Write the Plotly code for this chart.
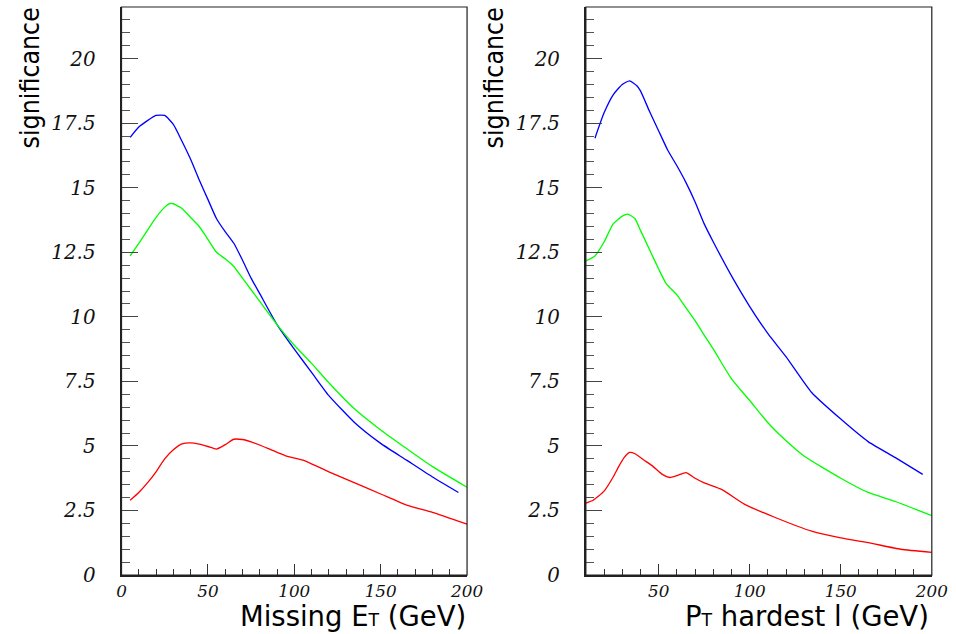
import plotly.graph_objects as go

# ---- data: left panel (Missing E_T) ----
met_blue_x = [5, 10, 15, 20, 25, 30, 35, 40, 45, 50, 55, 60, 65, 70, 75, 80, 90, 100, 110, 120, 135, 150, 165, 180, 195]
met_blue_y = [16.95, 17.35, 17.6, 17.8, 17.8, 17.45, 16.8, 16.1, 15.3, 14.55, 13.8, 13.3, 12.85, 12.2, 11.5, 10.9, 9.7, 8.75, 7.85, 6.95, 5.9, 5.1, 4.45, 3.8, 3.2]

met_green_x = [5, 10, 15, 20, 25, 28, 30, 35, 40, 45, 50, 55, 60, 65, 70, 75, 80, 90, 100, 110, 120, 135, 150, 165, 180, 200]
met_green_y = [12.36, 12.85, 13.35, 13.85, 14.25, 14.39, 14.38, 14.2, 13.85, 13.5, 13.0, 12.5, 12.25, 11.95, 11.5, 11.05, 10.6, 9.7, 8.9, 8.2, 7.45, 6.43, 5.62, 4.9, 4.2, 3.4]

met_red_x = [5, 10, 15, 20, 25, 30, 35, 40, 45, 50, 55, 60, 65, 70, 75, 85, 95, 105, 120, 135, 150, 165, 180, 200]
met_red_y = [2.9, 3.2, 3.57, 4.0, 4.5, 4.85, 5.08, 5.12, 5.07, 4.98, 4.88, 5.05, 5.26, 5.25, 5.16, 4.9, 4.62, 4.45, 4.0, 3.57, 3.14, 2.71, 2.43, 1.97]

# ---- data: right panel (P_T hardest lepton) ----
pt_blue_x = [15, 20, 25, 30, 34, 38, 40, 45, 50, 55, 60, 65, 70, 75, 80, 91, 100, 110, 120, 134, 150, 165, 180, 195]
pt_blue_y = [16.92, 17.9, 18.6, 19.0, 19.14, 18.95, 18.75, 17.95, 17.2, 16.45, 15.85, 15.2, 14.45, 13.6, 12.9, 11.46, 10.4, 9.35, 8.45, 7.07, 6.04, 5.17, 4.55, 3.9]

pt_green_x = [10, 15, 20, 25, 30, 33, 37, 40, 45, 50, 54, 60, 64, 70, 74, 80, 90, 100, 110, 120, 130, 150, 165, 180, 200]
pt_green_y = [12.17, 12.36, 12.9, 13.6, 13.9, 13.98, 13.8, 13.35, 12.6, 11.85, 11.3, 10.85, 10.45, 9.85, 9.4, 8.75, 7.6, 6.76, 5.9, 5.2, 4.6, 3.75, 3.2, 2.85, 2.3]

pt_red_x = [10, 14, 20, 25, 28, 31, 34, 37, 42, 47, 52, 56, 60, 65, 70, 75, 85, 97, 114, 134, 150, 165, 183, 200]
pt_red_y = [2.79, 2.9, 3.25, 3.8, 4.2, 4.55, 4.75, 4.7, 4.45, 4.2, 3.9, 3.78, 3.85, 3.97, 3.75, 3.57, 3.3, 2.75, 2.23, 1.7, 1.44, 1.26, 1.0, 0.88]

y_tickvals = [0, 2.5, 5, 7.5, 10, 12.5, 15, 17.5, 20]
y_ticktext = ["0", "2.5", "5", "7.5", "10", "12.5", "15", "17.5", "20"]
x1_tickvals = [0, 50, 100, 150, 200]
x2_tickvals = [50, 100, 150, 200]

BLUE, GREEN, RED = "#0000ff", "#00ff00", "#ff0000"
RW, RH = 956, 634          # reference picture size (positions below are in its pixels)
K = 1.0175                 # compensation for the viewer's rendering scale
W, H = round(RW * K), round(RH * K)

def s(v):
    return v * K

fig = go.Figure()

def add(x, y, color, xa, ya):
    fig.add_trace(go.Scatter(x=x, y=y, mode="lines", xaxis=xa, yaxis=ya,
                             line=dict(color=color, width=s(1.3), shape="spline", smoothing=0.5),
                             showlegend=False, hoverinfo="skip"))

add(met_blue_x, met_blue_y, BLUE, "x", "y")
add(met_green_x, met_green_y, GREEN, "x", "y")
add(met_red_x, met_red_y, RED, "x", "y")
add(pt_blue_x, pt_blue_y, BLUE, "x2", "y2")
add(pt_green_x, pt_green_y, GREEN, "x2", "y2")
add(pt_red_x, pt_red_y, RED, "x2", "y2")

ytickfont = dict(family="DejaVu Serif", size=s(19.5), color="#111111", style="italic")
xtickfont = dict(family="DejaVu Serif", size=s(16.5), color="#111111", style="italic")
ydom = [1 - 576 / RH, 1 - 7 / RH]

def xaxis(domain, rng, tickvals, anchor):
    return dict(domain=domain, range=rng, anchor=anchor, tickvals=tickvals,
                ticktext=[str(v) for v in tickvals], ticks="inside", ticklen=s(11),
                tickwidth=s(1.3), tickcolor="#333333", showline=True, linewidth=s(2),
                linecolor="#222222", mirror=False, showgrid=False, zeroline=False,
                tickfont=xtickfont, ticklabelstandoff=0,
                minor=dict(ticks="inside", ticklen=s(6), dtick=10, tick0=0,
                           tickcolor="#333333", tickwidth=s(1.3), showgrid=False))

def yaxis(anchor):
    return dict(domain=ydom, range=[0, 22], anchor=anchor, tickvals=y_tickvals,
                ticktext=y_ticktext, ticks="inside", ticklen=s(16), tickwidth=s(1.3),
                tickcolor="#444444", showline=True, linewidth=s(2), linecolor="#222222",
                mirror=False, showgrid=False, zeroline=False, tickfont=ytickfont,
                ticklabelstandoff=round(s(20)),
                minor=dict(ticks="inside", ticklen=s(8), dtick=0.5, tick0=0,
                           tickcolor="#555555", tickwidth=s(1.3), showgrid=False))

fig.update_layout(
    width=W, height=H,
    margin=dict(l=0, r=0, t=0, b=0),
    paper_bgcolor="white", plot_bgcolor="white",
    xaxis=xaxis([117 / RW, 464 / RW], [0, 200], x1_tickvals, "y"),
    yaxis=yaxis("x"),
    xaxis2=xaxis([583.3 / RW, 930.7 / RW], [10, 200], x2_tickvals, "y2"),
    yaxis2=yaxis("x2"),
)

# frame boxes
for xr, yr in [("x domain", "y domain"), ("x2 domain", "y2 domain")]:
    fig.add_shape(type="rect", xref=xr, yref=yr, x0=0, x1=1, y0=0, y1=1,
                  line=dict(color="#222222", width=s(1.2)), layer="above")

titlefont = dict(family="DejaVu Sans", size=s(27), color="black")
yfont = dict(family="Liberation Sans Narrow, DejaVu Sans Condensed, Liberation Sans", size=s(26), color="black")
sub_t = "<span style='font-size:%.1fpx'>T</span>" % s(17)

fig.add_annotation(text="Missing E" + sub_t + " (GeV)", xref="paper", yref="paper",
                   x=464 / RW, y=1 - 617 / RH, xanchor="right", yanchor="middle",
                   showarrow=False, font=titlefont, borderpad=0)
fig.add_annotation(text="P" + sub_t + " hardest l (GeV)", xref="paper", yref="paper",
                   x=929 / RW, y=1 - 617 / RH, xanchor="right", yanchor="middle",
                   showarrow=False, font=titlefont, borderpad=0)
for xc in [25 / RW, 491 / RW]:
    fig.add_annotation(text="significance", xref="paper", yref="paper",
                       x=xc, y=1 - 5 / RH, xanchor="center", yanchor="top",
                       textangle=-90, showarrow=False, font=yfont)

fig.write_html("out.html")
